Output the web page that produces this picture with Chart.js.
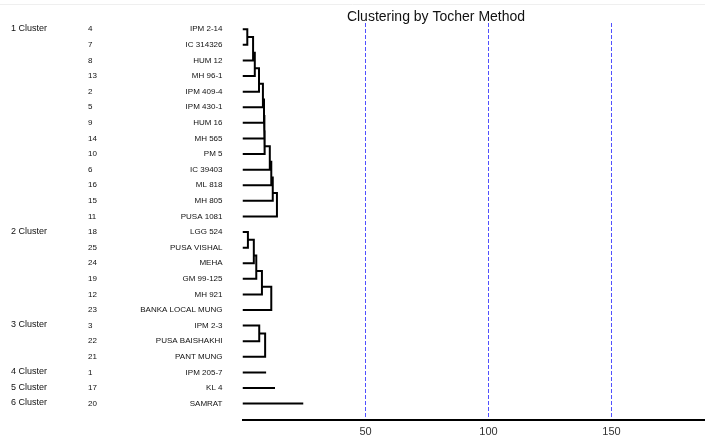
<!DOCTYPE html>
<html lang="en">
<head>
<meta charset="utf-8">
<title>Clustering by Tocher Method</title>
<script src="https://cdn.jsdelivr.net/npm/chart.js@4.4.1/dist/chart.umd.min.js"></script>
<style>
	html, body { margin: 0; padding: 0; background: #fff; }
	#chart-wrap { position: relative; width: 705px; height: 443px; }
</style>
</head>
<body>
<div id="chart-wrap"><canvas id="tocher-chart"></canvas></div>
<script>
// Genotypes in the order they are listed (top to bottom)
const genotypeNumbers = [4, 7, 8, 13, 2, 5, 9, 14, 10, 6, 16, 15, 11, 18, 25, 24, 19, 12, 23, 3, 22, 21, 1, 17, 20];
const genotypeNames = [
	"IPM 2-14", "IC 314326", "HUM 12", "MH 96-1", "IPM 409-4", "IPM 430-1", "HUM 16",
	"MH 565", "PM 5", "IC 39403", "ML 818", "MH 805", "PUSA 1081",
	"LGG 524", "PUSA VISHAL", "MEHA", "GM 99-125", "MH 921", "BANKA LOCAL MUNG",
	"IPM 2-3", "PUSA BAISHAKHI", "PANT MUNG",
	"IPM 205-7", "KL 4", "SAMRAT",
];
const clusterLabels = ["1 Cluster", "2 Cluster", "3 Cluster", "4 Cluster", "5 Cluster", "6 Cluster"];
const clusterSizes = [13, 6, 3, 1, 1, 1];

// Distance at which each genotype joins its cluster (first value = first pair)
const cluster1Joins = [1.95, 4.3, 5.0, 6.7, 8.3, 8.75, 8.9, 9.0, 11.1, 11.7, 12.3, 14.0];
const cluster2Joins = [2.2, 4.6, 5.6, 7.9, 11.7];
const cluster3Joins = [6.8, 9.2];
const cluster4Joins = [9.6];
const cluster5Joins = [13.2];
const cluster6Joins = [24.7];

const xTicks = [50, 100, 150];
const X_MAX = 188;

const FONT = "'Liberation Sans', Arial, sans-serif";

/**
 * Builds the dendrogram polylines from the join distances.
 * Gaps ({x: null}) break the line between pieces.
 */
function buildSegments() {
	const joinList = [cluster1Joins, cluster2Joins, cluster3Joins, cluster4Joins, cluster5Joins, cluster6Joins];
	const gap = () => ({ x: null, y: null });
	const points = [];
	let row = 0;

	clusterSizes.forEach((size, c) => {
		const joins = joinList[c];
		if (size === 1) {
			points.push({ x: 0, y: row }, { x: joins[0], y: row }, gap());
		} else {
			// first pair bracket
			points.push(
				{ x: 0, y: row },
				{ x: joins[0], y: row },
				{ x: joins[0], y: row + 1 },
				{ x: 0, y: row + 1 },
				gap()
			);
			let nodeY = row + 0.5;
			for (let k = 2; k < size; k++) {
				const leaf = row + k;
				points.push(
					{ x: joins[k - 2], y: nodeY },
					{ x: joins[k - 1], y: nodeY },
					{ x: joins[k - 1], y: leaf },
					{ x: 0, y: leaf },
					gap()
				);
				nodeY = leaf - 0.5;
			}
		}
		row += size;
	});
	return points;
}

// Draws the title and the three label columns on the left
const labelsPlugin = {
	id: "tocherLabels",
	afterDraw(chart) {
		const ctx = chart.ctx;
		const yScale = chart.scales.y;
		ctx.save();

		// faint frame line at the top
		ctx.strokeStyle = "#efefef";
		ctx.lineWidth = 1;
		ctx.beginPath();
		ctx.moveTo(0, 4.5);
		ctx.lineTo(chart.width, 4.5);
		ctx.stroke();

		ctx.fillStyle = "#111";
		ctx.textBaseline = "middle";

		ctx.font = "14px " + FONT;
		ctx.textAlign = "center";
		ctx.fillText("Clustering by Tocher Method", 436, 17.5);

		let row = 0;
		ctx.font = "9px " + FONT;
		ctx.textAlign = "left";
		clusterSizes.forEach((size, c) => {
			ctx.fillText(clusterLabels[c], 11, yScale.getPixelForValue(row) - 1);
			row += size;
		});

		ctx.font = "8px " + FONT;
		genotypeNumbers.forEach((num, i) => {
			ctx.textAlign = "left";
			ctx.fillText(String(num), 88, yScale.getPixelForValue(i));
			ctx.textAlign = "right";
			ctx.fillText(genotypeNames[i], 222.5, yScale.getPixelForValue(i));
		});
		ctx.restore();
	},
};

const ctx = document.getElementById("tocher-chart").getContext("2d");
new Chart(ctx, {
	type: "scatter",
	data: {
		datasets: [
			{
				data: buildSegments(),
				showLine: true,
				spanGaps: false,
				borderColor: "#000",
				borderWidth: 2,
				borderJoinStyle: "miter",
				pointRadius: 0,
				pointHoverRadius: 0,
			},
		],
	},
	options: {
		responsive: true,
		maintainAspectRatio: false,
		animation: false,
		events: [],
		layout: {
			padding: { left: 242.5, right: 0, top: 23, bottom: 0 },
		},
		plugins: {
			legend: { display: false },
			tooltip: { enabled: false },
			title: { display: false },
		},
		scales: {
			x: {
				type: "linear",
				min: 0,
				max: X_MAX,
				afterBuildTicks: (scale) => {
					scale.ticks = xTicks.map((v) => ({ value: v }));
				},
				ticks: {
					color: "#333",
					padding: 6,
					font: { family: FONT, size: 11, lineHeight: 1 },
				},
				grid: {
					color: "rgb(80, 80, 255)",
					lineWidth: 1,
					drawTicks: false,
				},
				border: {
					display: true,
					color: "#000",
					width: 2,
					dash: [4, 2],
				},
			},
			y: {
				type: "linear",
				display: false,
				reverse: true,
				min: -0.4,
				max: 25.05,
			},
		},
	},
	plugins: [labelsPlugin],
});
</script>
</body>
</html>
